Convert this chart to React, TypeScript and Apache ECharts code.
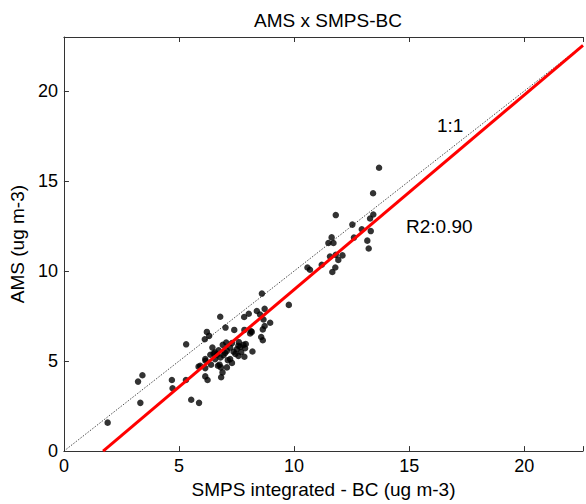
import React, { useEffect, useRef } from "react";
import * as echarts from "echarts";

const titleText = "AMS x SMPS-BC";
const xName = "SMPS integrated - BC (ug m-3)";
const yName = "AMS (ug m-3)";
const xTicks = [0, 5, 10, 15, 20];
const yTicks = [0, 5, 10, 15, 20];
const xMax = 22.55;
const yMax = 23;
const fitSlope = 1.081;
const fitIntercept = -1.84;
const r2Label = "R2:0.90";
const oneToOneLabel = "1:1";

const smpsX = [
  1.9, 3.22, 3.41, 3.32, 4.69, 4.72, 5.3, 5.53, 5.87, 5.85, 5.31, 5.92, 6.15, 6.14, 6.24,
  6.21, 6.12, 6.31, 6.79, 7.02, 7.4, 7.83, 8.03, 8.38, 8.72, 8.52, 9.77, 8.96, 8.72, 8.64,
  8.16, 8.57, 8.64, 7.84, 7.05, 6.72, 6.56, 6.36, 6.69, 6.82, 7.08, 6.89, 6.83, 6.93, 7.08,
  7.22, 7.37, 7.51, 7.66, 7.8, 7.58, 7.22, 7.84, 8.19, 7.12, 6.65, 6.57, 8.6, 6.14, 6.5,
  6.14, 6.39, 6.76, 7.87, 7.58, 8.12, 8.67, 8.09, 13.69, 13.43, 11.81, 13.44, 13.3, 12.53, 12.94,
  13.33, 13.18, 13.24, 11.63, 11.49, 11.71, 12.6, 11.56, 11.81, 12.1, 11.92, 11.79, 11.66, 10.58, 10.69,
  11.2, 6.9, 7.3, 7.0, 7.45, 7.7, 6.8, 7.3, 7.9, 6.45, 7.6
];
const amsY = [
  1.58, 3.86, 4.21, 2.68, 3.95, 3.49, 3.95, 2.85, 2.68, 4.69, 5.93, 4.74, 5.02, 4.15, 3.95,
  6.62, 6.21, 6.4, 7.46, 6.86, 6.73, 7.45, 7.63, 7.78, 7.9, 7.59, 8.12, 7.13, 6.95, 6.76,
  6.62, 6.34, 6.16, 6.73, 6.03, 5.6, 5.48, 5.35, 4.74, 4.65, 4.65, 4.37, 4.1, 5.33, 5.57,
  5.75, 5.52, 5.66, 5.79, 5.9, 5.29, 5.11, 5.24, 5.53, 5.05, 5.35, 5.11, 8.75, 5.11, 5.42,
  4.61, 4.8, 4.8, 5.71, 5.85, 6.67, 7.31, 6.53, 15.74, 14.32, 13.11, 13.14, 12.92, 12.58, 12.32,
  12.22, 11.69, 11.25, 11.87, 11.56, 11.56, 11.86, 10.81, 10.9, 10.87, 10.62, 10.2, 9.95, 10.2, 10.07,
  10.35, 5.9, 6.0, 5.45, 5.4, 5.5, 5.2, 4.9, 5.95, 5.75, 6.05
];

const FONT = "'Liberation Sans', Arial, Helvetica, sans-serif";

export default function App() {
  const ref = useRef<HTMLDivElement>(null);
  useEffect(() => {
    if (!ref.current) return;
    const chart = echarts.init(ref.current, undefined, { renderer: "svg" });
    const points = smpsX.map((x, i) => [x, amsY[i]]);
    const fitStartX = -fitIntercept / fitSlope;
    const fitLine = [
      [fitStartX, 0],
      [xMax, fitSlope * xMax + fitIntercept],
    ];
    const oneLine = [
      [0, 0],
      [xMax, xMax],
    ];
    const fmt = (ticks: number[]) => (v: number) =>
      ticks.some((t) => Math.abs(t - v) < 1e-6) ? String(v) : "";
    const axisCommon = {
      type: "value" as const,
      min: 0,
      interval: 5,
      splitLine: { show: false },
      axisLine: { show: true, lineStyle: { color: "#333", width: 1 } },
      axisTick: { show: true, inside: true, length: 5, lineStyle: { color: "#333" } },
    };
    chart.setOption({
      animation: false,
      backgroundColor: "#fff",
      title: {
        text: titleText,
        left: 323,
        textAlign: "center",
        top: 6,
        textStyle: { fontFamily: FONT, fontSize: 19, fontWeight: "normal", color: "#000" },
      },
      grid: { left: 63.5, right: 0, top: 37, bottom: 43, containLabel: false },
      xAxis: [
        {
          ...axisCommon,
          max: xMax,
          position: "bottom",
          name: xName,
          nameLocation: "middle",
          nameGap: 26,
          nameTextStyle: { fontFamily: FONT, fontSize: 19, color: "#000" },
          axisLabel: { fontFamily: FONT, fontSize: 18, color: "#000", margin: 6, formatter: fmt(xTicks) },
        },
        {
          ...axisCommon,
          max: xMax,
          position: "top",
          axisLabel: { show: false },
        },
      ],
      yAxis: [
        {
          ...axisCommon,
          max: yMax,
          name: yName,
          nameLocation: "middle",
          nameGap: 35,
          nameTextStyle: { fontFamily: FONT, fontSize: 19, color: "#000" },
          axisLabel: { fontFamily: FONT, fontSize: 18, color: "#000", margin: 6, formatter: fmt(yTicks) },
        },
      ],
      series: [
        {
          type: "line",
          data: oneLine,
          symbol: "none",
          lineStyle: { color: "#222", width: 0.8, type: [1.5, 1.5] },
          z: 1,
        },
        {
          type: "scatter",
          data: points,
          symbol: "circle",
          symbolSize: 6.5,
          itemStyle: { color: "#000" },
          z: 2,
        },
        {
          type: "line",
          data: fitLine,
          symbol: "none",
          lineStyle: { color: "#ff0000", width: 3 },
          z: 3,
        },
      ],
      graphic: [
        {
          type: "text",
          left: 437,
          top: 116,
          style: { text: oneToOneLabel, fontFamily: FONT, fontSize: 19, fill: "#000" },
        },
        {
          type: "text",
          left: 406,
          top: 217,
          style: { text: r2Label, fontFamily: FONT, fontSize: 19, fill: "#000" },
        },
      ],
    });
    return () => chart.dispose();
  }, []);
  return (
    <div
      ref={ref}
      style={{ position: "absolute", left: 0, top: 0, width: 586, height: 504 }}
    />
  );
}
